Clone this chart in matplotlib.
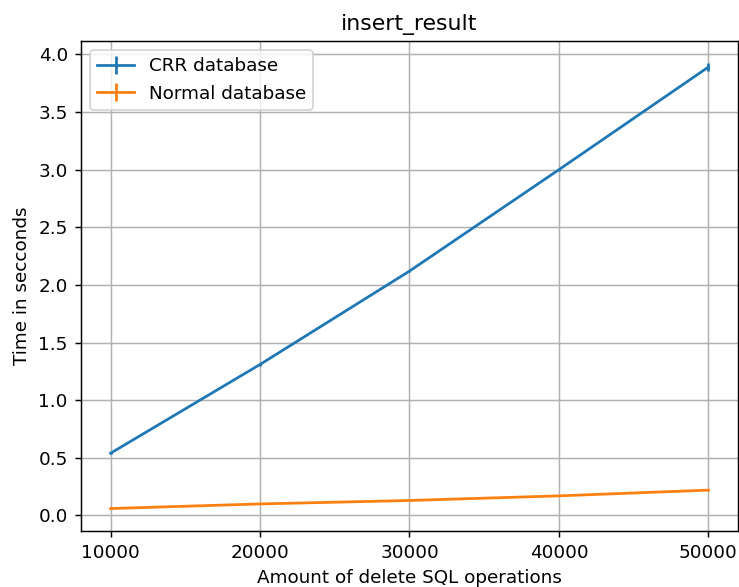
import matplotlib
matplotlib.use("Agg")
from matplotlib import pyplot as plt
import numpy as np

# delete benchmark, mean times and spread per batch size
ops = [10000, 20000, 30000, 40000, 50000]
crr_mean = [0.54, 1.31, 2.12, 3.00, 3.89]
crr_err = [0.01, 0.01, 0.01, 0.01, 0.033]
normal_mean = [0.06, 0.10, 0.13, 0.17, 0.22]
normal_err = [0.004, 0.003, 0.003, 0.003, 0.004]

dpi = 132
fig = plt.figure(figsize=(739 / dpi, 587 / dpi), dpi=dpi)
ax = fig.add_axes([0.1092, 0.0949, 0.8898, 0.8353])

ax.errorbar(ops, crr_mean, yerr=crr_err, label='CRR database')
ax.errorbar(ops, normal_mean, yerr=normal_err, label='Normal database')

ax.set_title('insert_result')
ax.set_xlabel('Amount of delete SQL operations')
ax.set_ylabel('Time in secconds')
ax.set_xticks(ops)
ax.grid(True)
ax.legend(loc='upper left')

fig.savefig('out.png', dpi=dpi)
